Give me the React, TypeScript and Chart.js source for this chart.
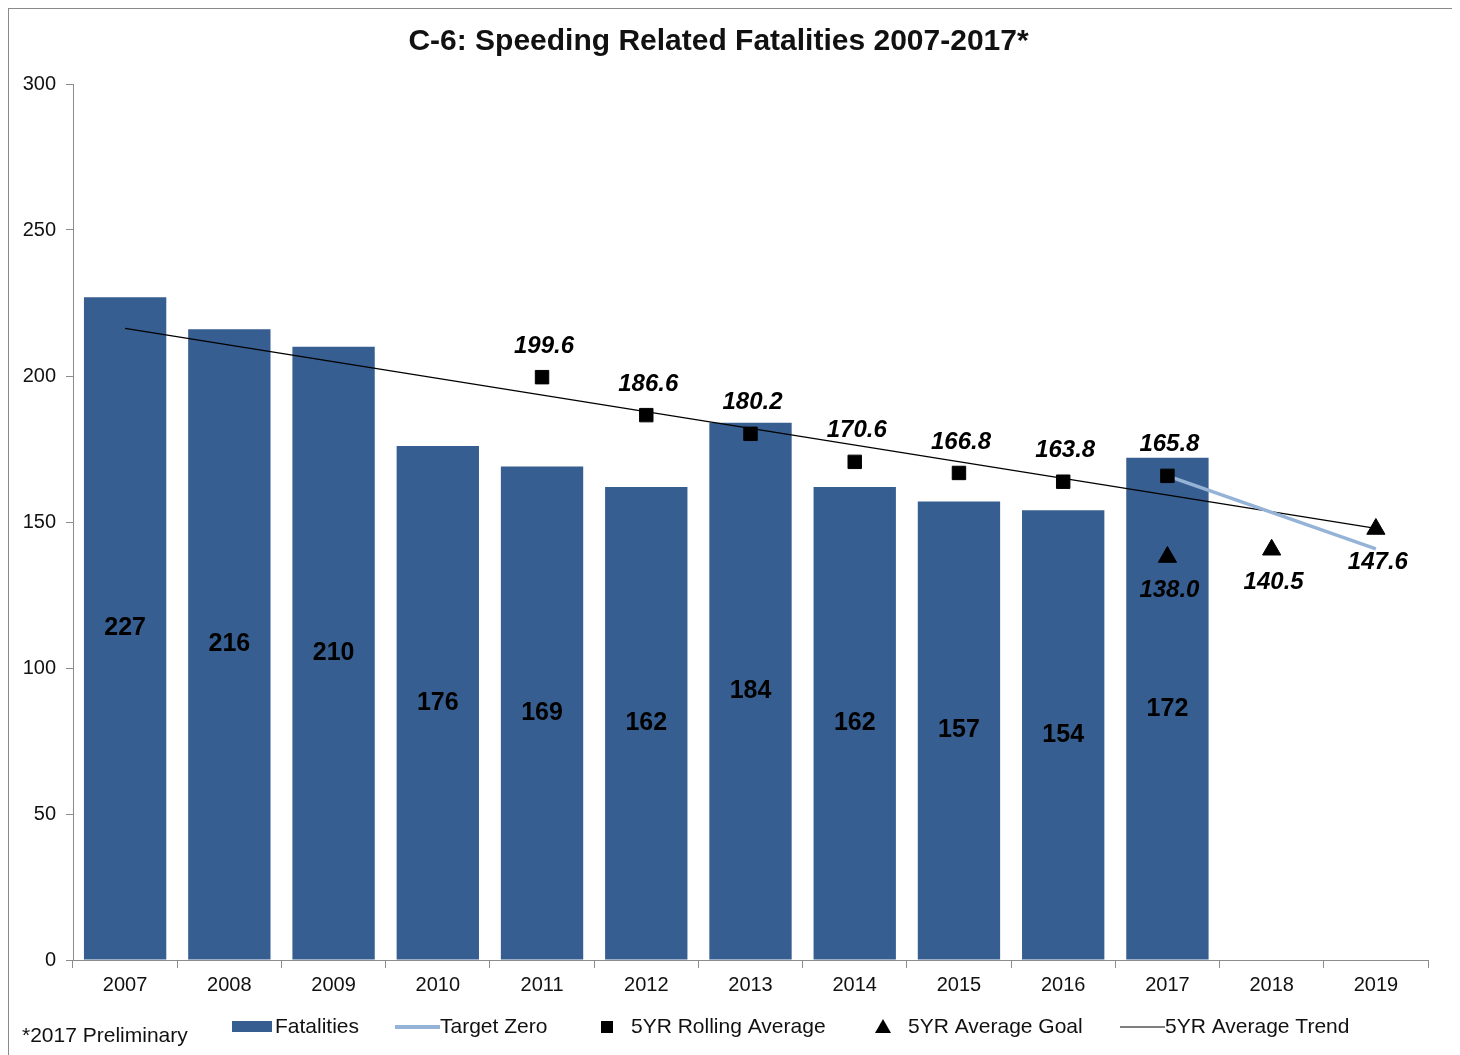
import React, { useEffect, useRef } from "react";
import { Chart, registerables } from "chart.js";

Chart.register(...registerables);

const years = ["2007", "2008", "2009", "2010", "2011", "2012", "2013", "2014", "2015", "2016", "2017", "2018", "2019"];
const fatalities = [227, 216, 210, 176, 169, 162, 184, 162, 157, 154, 172, null, null];
const rollingAverage = [null, null, null, null, 199.6, 186.6, 180.2, 170.6, 166.8, 163.8, 165.8, null, null];
const averageGoal = [null, null, null, null, null, null, null, null, null, null, 138.0, 140.5, 147.6];
const targetZero = [null, null, null, null, null, null, null, null, null, null, 165.8, null, 140.8];
const averageTrend = [216.3, null, null, null, null, null, null, null, null, null, null, null, 147.8];
const yTicks = [0, 50, 100, 150, 200, 250, 300];

const BAR_COLOR = "#365E90";
const TZ_COLOR = "#95B3D7";
const FONT = "'Liberation Sans', Arial, sans-serif";

const labelsPlugin = {
  id: "customLabels",
  afterDatasetsDraw(chart: any) {
    const ctx = chart.ctx;
    ctx.save();
    ctx.fillStyle = "#000";
    ctx.textAlign = "center";
    ctx.textBaseline = "middle";
    const barMeta = chart.getDatasetMeta(0);
    ctx.font = `bold 25px ${FONT}`;
    barMeta.data.forEach((el: any, i: number) => {
      const v = fatalities[i];
      if (v == null) return;
      const y = (el.y + el.base) / 2;
      ctx.fillText(String(v), el.x, y);
    });
    ctx.font = `italic bold 24px ${FONT}`;
    const rMeta = chart.getDatasetMeta(3);
    rMeta.data.forEach((el: any, i: number) => {
      const v = rollingAverage[i];
      if (v == null) return;
      ctx.fillText(v.toFixed(1), el.x + 2, el.y - 31);
    });
    const gMeta = chart.getDatasetMeta(4);
    gMeta.data.forEach((el: any, i: number) => {
      const v = averageGoal[i];
      if (v == null) return;
      ctx.fillText(v.toFixed(1), el.x + 2, el.y + 33);
    });
    ctx.restore();
  },
  afterDraw(chart: any) {
    const ctx = chart.ctx;
    ctx.save();
    const y = 1018;
    ctx.font = `21px ${FONT}`;
    ctx.fillStyle = "#111";
    ctx.textBaseline = "middle";
    ctx.textAlign = "left";
    ctx.fillText("*2017 Preliminary", 13, y + 9);
    ctx.fillStyle = BAR_COLOR;
    ctx.fillRect(223, y - 6, 40, 11);
    ctx.fillStyle = "#111";
    ctx.fillText("Fatalities", 266, y);
    ctx.strokeStyle = TZ_COLOR;
    ctx.lineWidth = 4;
    ctx.beginPath();
    ctx.moveTo(386, y);
    ctx.lineTo(431, y);
    ctx.stroke();
    ctx.fillText("Target Zero", 431, y);
    ctx.fillStyle = "#000";
    ctx.fillRect(592, y - 6, 12, 12);
    ctx.fillStyle = "#111";
    ctx.fillText("5YR Rolling Average", 622, y);
    ctx.fillStyle = "#000";
    ctx.beginPath();
    ctx.moveTo(874, y - 8);
    ctx.lineTo(882, y + 6);
    ctx.lineTo(866, y + 6);
    ctx.closePath();
    ctx.fill();
    ctx.fillStyle = "#111";
    ctx.fillText("5YR Average Goal", 899, y);
    ctx.strokeStyle = "#000";
    ctx.lineWidth = 1.2;
    ctx.beginPath();
    ctx.moveTo(1111, y);
    ctx.lineTo(1156, y);
    ctx.stroke();
    ctx.fillText("5YR Average Trend", 1156, y);
    ctx.restore();
  },
};

export default function App() {
  const ref = useRef<HTMLCanvasElement | null>(null);
  useEffect(() => {
    if (!ref.current) return;
    const chart = new Chart(ref.current, {
      type: "bar",
      data: {
        labels: years,
        datasets: [
          {
            type: "bar",
            label: "Fatalities",
            data: fatalities,
            backgroundColor: BAR_COLOR,
            barPercentage: 0.79,
            categoryPercentage: 1,
            order: 5,
          } as any,
          {
            type: "line",
            label: "5YR Average Trend",
            data: averageTrend,
            borderColor: "#000",
            borderWidth: 1.2,
            pointRadius: 0,
            spanGaps: true,
            order: 4,
          },
          {
            type: "line",
            label: "Target Zero",
            data: targetZero,
            borderColor: TZ_COLOR,
            borderWidth: 3.5,
            pointRadius: 0,
            spanGaps: true,
            order: 3,
          },
          {
            type: "line",
            label: "5YR Rolling Average",
            data: rollingAverage,
            showLine: false,
            pointStyle: "rect",
            pointRadius: 9.5,
            pointBackgroundColor: "#000",
            pointBorderColor: "#000",
            order: 2,
          },
          {
            type: "line",
            label: "5YR Average Goal",
            data: averageGoal,
            showLine: false,
            pointStyle: "triangle",
            pointRadius: 10.5,
            pointBackgroundColor: "#000",
            pointBorderColor: "#000",
            order: 1,
          },
        ],
      },
      options: {
        animation: false,
        responsive: false,
        maintainAspectRatio: false,
        layout: { padding: { left: 0, right: 25, top: 0, bottom: 0 } },
        plugins: {
          legend: { display: false },
          tooltip: { enabled: false },
          title: {
            display: true,
            text: "C-6: Speeding Related Fatalities 2007-2017*",
            color: "#111",
            font: { family: FONT, size: 30, weight: "bold" },
            padding: { top: 15, bottom: 24 },
          },
        },
        scales: {
          x: {
            grid: {
              display: true,
              drawOnChartArea: false,
              offset: true,
              tickLength: 8,
              color: "#8c8c8c",
            },
            border: { color: "#8c8c8c", width: 1 },
            ticks: {
              color: "#111",
              font: { family: FONT, size: 20 },
              padding: 5,
              maxRotation: 0,
            },
            afterFit: (scale: any) => {
              scale.height = 95;
            },
          },
          y: {
            min: 0,
            max: 300,
            afterBuildTicks: (scale: any) => {
              scale.ticks = yTicks.map((v) => ({ value: v }));
            },
            grid: {
              display: true,
              drawOnChartArea: false,
              tickLength: 7,
              color: "#8c8c8c",
            },
            border: { color: "#8c8c8c", width: 1 },
            ticks: {
              color: "#111",
              font: { family: FONT, size: 20 },
              padding: 10,
            },
            afterFit: (scale: any) => {
              scale.width = 64;
            },
          },
        },
      },
      plugins: [labelsPlugin],
    });
    return () => chart.destroy();
  }, []);
  return (
    <div
      style={{
        width: 1444,
        height: 1046,
        border: "1px solid #8a8a8a",
        background: "#fff",
      }}
    >
      <canvas ref={ref} width={1444} height={1046} style={{ display: "block" }} />
    </div>
  );
}
